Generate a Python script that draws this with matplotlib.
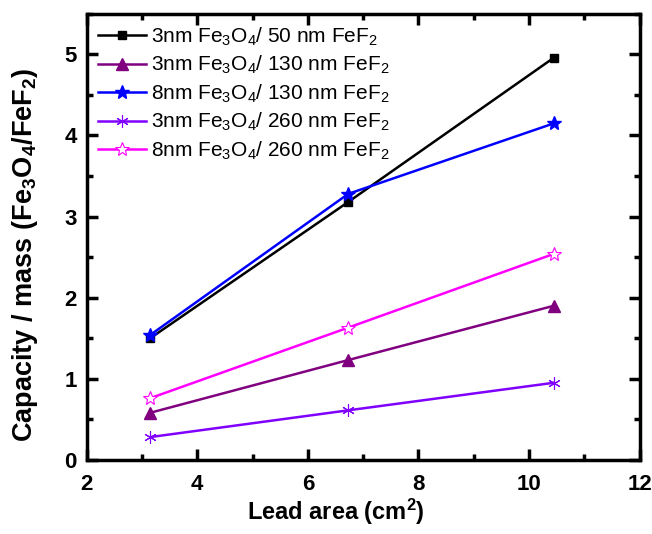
import matplotlib
matplotlib.use("Agg")
import matplotlib.pyplot as plt
from matplotlib.ticker import MultipleLocator

plt.rcParams['font.family'] = ['Liberation Sans', 'DejaVu Sans']
plt.rcParams['mathtext.fontset'] = 'custom'
plt.rcParams['mathtext.rm'] = 'Liberation Sans'
plt.rcParams['mathtext.bf'] = 'Liberation Sans:bold'
plt.rcParams['mathtext.it'] = 'Liberation Sans:italic'

lead_area = [3.15, 6.73, 10.45]
s_3nm_50 = [1.50, 3.18, 4.96]
s_3nm_130 = [0.58, 1.23, 1.90]
s_8nm_130 = [1.54, 3.28, 4.15]
s_3nm_260 = [0.28, 0.61, 0.95]
s_8nm_260 = [0.76, 1.63, 2.54]

labels = [
    r"3nm Fe$_3$O$_4$/ 50 nm FeF$_2$",
    r"3nm Fe$_3$O$_4$/ 130 nm FeF$_2$",
    r"8nm Fe$_3$O$_4$/ 130 nm FeF$_2$",
    r"3nm Fe$_3$O$_4$/ 260 nm FeF$_2$",
    r"8nm Fe$_3$O$_4$/ 260 nm FeF$_2$",
]

fig = plt.figure(figsize=(6.52, 5.34), dpi=100)
ax = fig.add_axes([0.133, 0.139, 0.848, 0.835])

lw = 1.8
ax.plot(lead_area, s_3nm_50, color='black', marker='s', ms=6, lw=lw, label=labels[0])
ax.plot(lead_area, s_3nm_130, color='#800080', marker='^', ms=8, lw=lw, label=labels[1])
ax.plot(lead_area, s_8nm_130, color='#0000FF', marker='*', ms=10, lw=lw, label=labels[2])
ax.plot(lead_area, s_3nm_260, color='#8000FF', marker=(6, 2, 0), ms=9, lw=lw, mew=0.8, label=labels[3])
ax.plot(lead_area, s_8nm_260, color='#FF00FF', marker='*', ms=10, lw=lw, mfc='white', mew=0.8, label=labels[4])

ax.set_xlim(2, 12)
ax.set_ylim(0, 5.5)
ax.xaxis.set_major_locator(MultipleLocator(2))
ax.xaxis.set_minor_locator(MultipleLocator(1))
ax.yaxis.set_major_locator(MultipleLocator(1))
ax.yaxis.set_minor_locator(MultipleLocator(0.5))

for sp in ax.spines.values():
    sp.set_linewidth(2.5)
ax.tick_params(which='both', direction='in', top=True, right=True, width=2.5)
ax.tick_params(which='major', length=8, labelsize=16)
ax.tick_params(axis='x', which='major', pad=10)
ax.tick_params(axis='y', which='major', pad=7)
ax.tick_params(which='minor', length=4)
for lab in ax.get_xticklabels() + ax.get_yticklabels():
    lab.set_fontweight('bold')

ax.set_xlabel(r"Lead area (cm$^{\mathbf{2}}$)", fontsize=17, fontweight='bold')
ax.xaxis.set_label_coords(0.45, -0.083)
ax.set_ylabel(r"Capacity / mass (Fe$_{\mathbf{3}}$O$_{\mathbf{4}}$/FeF$_{\mathbf{2}}$)",
              fontsize=19.5, fontweight='bold')
ax.yaxis.set_label_coords(-0.085, 0.46)

leg = ax.legend(loc='upper left', frameon=False, fontsize=15, handlelength=2.3,
                handletextpad=0.25, labelspacing=0.3, borderaxespad=0.25,
                borderpad=0.3)

fig.savefig("out.png", dpi=100)
